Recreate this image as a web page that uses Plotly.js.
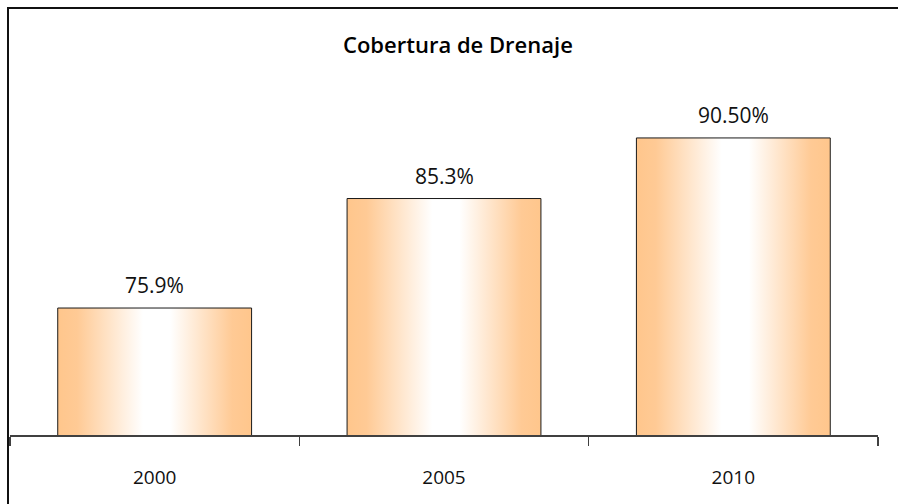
<!DOCTYPE html>
<html>
<head>
<meta charset="utf-8">
<script src="https://cdn.plot.ly/plotly-3.0.1.min.js"></script>
<style>
html,body{margin:0;padding:0;background:#fff;}
#chart{width:898px;height:504px;}
</style>
</head>
<body>
<div id="chart"></div>
<script>
var categories = ["2000", "2005", "2010"];
var values = [75.9, 85.3, 90.5];
var labels = ["75.9%", "85.3%", "90.50%"];
var chartTitle = "Cobertura de Drenaje";

var trace = {
  type: "bar",
  x: categories,
  y: values,
  width: 0.67,
  marker: {color: "#FFC993", line: {color: "#1a1a1a", width: 1}},
  hoverinfo: "none",
  cliponaxis: true
};

var annotations = categories.map(function (c, i) {
  return {
    x: i, y: values[i], xref: "x", yref: "y",
    text: labels[i], showarrow: false,
    yanchor: "bottom", yshift: 7,
    font: {family: "'Open Sans', sans-serif", size: 21, color: "#111"}
  };
});
annotations.push({
  xref: "paper", yref: "paper", x: (457.5 - 10) / 868, y: (435 - 44) / 349,
  text: chartTitle, showarrow: false,
  xanchor: "center", yanchor: "middle",
  font: {family: "'Open Sans', sans-serif", size: 22, weight: 600, color: "#000"}
});

var layout = {
  width: 898, height: 504,
  margin: {l: 10, r: 20, t: 86, b: 69, pad: 0},
  paper_bgcolor: "#fff", plot_bgcolor: "#fff",
  showlegend: false,
  xaxis: {
    type: "category", range: [-0.5, 2.5],
    showline: true, linecolor: "#404040", linewidth: 1.5,
    ticks: "outside", tickson: "boundaries", ticklen: 9, tickcolor: "#404040", tickwidth: 1.5,
    showgrid: false, zeroline: false,
    tickfont: {family: "'Open Sans', sans-serif", size: 19, color: "#111"},
    ticklabelstandoff: 25
  },
  yaxis: {
    range: [65, 94.96], visible: false, showgrid: false, zeroline: false
  },
  annotations: annotations,
  shapes: [{
    type: "rect", xref: "paper", yref: "paper",
    x0: (8 - 10) / 868, x1: (910 - 10) / 868,
    y0: (435 - 520) / 349, y1: (435 - 8) / 349,
    line: {color: "#111", width: 2}, fillcolor: "rgba(0,0,0,0)"
  }]
};

Plotly.newPlot("chart", [trace], layout, {staticPlot: true}).then(function (gd) {
  var svg = gd.querySelector("svg.main-svg");
  var ns = "http://www.w3.org/2000/svg";
  var defs = svg.querySelector("defs");
  var grad = document.createElementNS(ns, "linearGradient");
  grad.setAttribute("id", "barGrad");
  grad.setAttribute("x1", "0"); grad.setAttribute("x2", "1");
  grad.setAttribute("y1", "0"); grad.setAttribute("y2", "0");
  [[0, "#FFC68C"], [0.1, "#FFCA95"], [0.44, "#FFFFFF"], [0.58, "#FFFFFF"], [0.9, "#FFCA95"], [1, "#FFC68C"]].forEach(function (s) {
    var st = document.createElementNS(ns, "stop");
    st.setAttribute("offset", s[0]);
    st.setAttribute("stop-color", s[1]);
    grad.appendChild(st);
  });
  defs.appendChild(grad);
  gd.querySelectorAll(".bars .point path").forEach(function (p) {
    p.style.fill = "url(#barGrad)";
    p.style.fillOpacity = 1;
  });
});
</script>
</body>
</html>
